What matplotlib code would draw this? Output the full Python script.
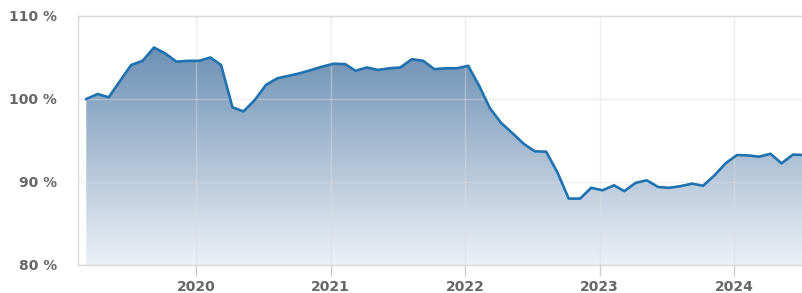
import matplotlib
matplotlib.use("Agg")
import matplotlib.pyplot as plt
import matplotlib.dates as mdates
import numpy as np
import pandas as pd
from matplotlib.colors import LinearSegmentedColormap
from matplotlib.patches import PathPatch

# ---- data (monthly, Mar 2019 .. Jul 2024) ----
start_month = "2019-03-01"
values = [
    100.0, 100.6, 100.2, 102.2, 104.1, 104.6, 106.2, 105.5, 104.5, 104.6,   # 2019
    104.6, 105.0, 104.1, 99.0, 98.5, 99.9, 101.7, 102.5, 102.8, 103.1, 103.5, 103.9,  # 2020
    104.25, 104.2, 103.4, 103.8, 103.5, 103.7, 103.8, 104.8, 104.6, 103.6, 103.7, 103.7,  # 2021
    104.0, 101.5, 98.9, 97.1, 95.9, 94.6, 93.7, 93.65, 91.1, 88.0, 88.0, 89.3,  # 2022
    89.0, 89.6, 88.9, 89.9, 90.2, 89.4, 89.3, 89.5, 89.8, 89.55, 90.8, 92.25,  # 2023
    93.25, 93.2, 93.05, 93.4, 92.25, 93.3, 93.25,  # 2024
]
dates = pd.date_range(start_month, periods=len(values), freq="MS") + pd.Timedelta(days=8)
y_ticks = [80, 90, 100, 110]
y_tick_labels = ["80 %", "90 %", "100 %", "110 %"]
x_tick_years = [2020, 2021, 2022, 2023, 2024]

W, H = 803, 293
fig = plt.figure(figsize=(W / 100, H / 100), dpi=100)
ax = fig.add_axes([78 / W, 1 - 265 / H, 1 - 78 / W + 0.01, (265 - 16) / H])

x = mdates.date2num(dates.to_pydatetime())
y = np.array(values)

ref = mdates.date2num(pd.Timestamp("2020-01-01"))
x0 = ref - 118 / 134.5 * 365.25
x1 = ref + 615 / 134.5 * 365.25
ax.set_xlim(x0, x1)
ax.set_ylim(80, 110)

# gradient fill under the line
cmap = LinearSegmentedColormap.from_list("g", ["#ecf0f6", "#5a82aa"])
grad = np.linspace(0, 1, 256).reshape(-1, 1)
im = ax.imshow(grad, extent=[x0, x1, 80, 110], origin="lower", aspect="auto",
               cmap=cmap, zorder=1)
poly = ax.fill_between(x, y, 80, facecolor="none", edgecolor="none")
patch = PathPatch(poly.get_paths()[0], transform=ax.transData,
                  facecolor="none", edgecolor="none")
ax.add_patch(patch)
im.set_clip_path(patch)

ax.plot(x, y, color="#1f72b0", lw=1.9, zorder=4, solid_joinstyle="round")

ax.set_yticks(y_ticks)
ax.set_yticklabels(y_tick_labels)
xt = [mdates.date2num(pd.Timestamp(f"{yr}-01-01")) for yr in x_tick_years]
ax.set_xticks(xt)
ax.set_xticklabels([str(yr) for yr in x_tick_years])
ax.grid(True, color="#dcdcdc", alpha=0.45, lw=1.0, zorder=3)
ax.set_axisbelow(False)

for s in ["left", "bottom", "top"]:
    ax.spines[s].set_color("#d8d8d8")
    ax.spines[s].set_linewidth(1.0)
    ax.spines[s].set_zorder(5)
ax.spines["right"].set_visible(False)

ax.tick_params(axis="y", length=0, pad=15, labelsize=10, labelcolor="#666666")
ax.tick_params(axis="x", length=8, width=1, color="#cccccc", pad=2.5,
               labelsize=10, labelcolor="#666666")
for t in ax.get_xticklabels() + ax.get_yticklabels():
    t.set_fontweight("bold")

fig.savefig("out.png", dpi=100)
